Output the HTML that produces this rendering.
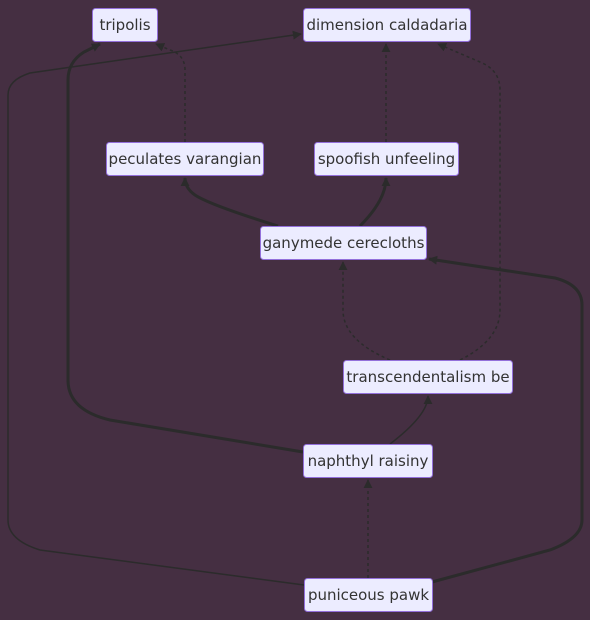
<!DOCTYPE html>
<html><head><meta charset="utf-8"><style>
html,body{margin:0;padding:0;background:#452f42;}
svg{display:block}
text{font-family:"DejaVu Sans","Liberation Sans",sans-serif;font-size:15px;fill:#333;}
</style></head><body>
<svg width="590" height="620" viewBox="0 0 590 620" xmlns="http://www.w3.org/2000/svg">
<defs>
<marker id="a" viewBox="0 0 10 10" refX="9" refY="5" markerWidth="9" markerHeight="9" markerUnits="userSpaceOnUse" orient="auto-start-reverse">
<path d="M0,0L10,5L0,10z" fill="#2b2b2b"/></marker>
</defs>
<g fill="none" stroke="#2b2b2b">
<path d="M185,142 V70 Q185,55 170,50 L156,44" stroke-width="1.5" stroke-dasharray="3,3" marker-end="url(#a)"/>
<path d="M386,142 V44" stroke-width="1.5" stroke-dasharray="3,3" marker-end="url(#a)"/>
<path d="M460,360 Q500,340 500,310 V90 Q500,70 480,62 L438,44" stroke-width="1.5" stroke-dasharray="3,3" marker-end="url(#a)"/>
<path d="M390,360 Q343,340 343,310 V262" stroke-width="1.5" stroke-dasharray="3,3" marker-end="url(#a)"/>
<path d="M278,226 Q210,205 195,195 Q185,188 185,178" stroke-width="3" marker-end="url(#a)"/>
<path d="M360,226 Q386,200 386,178" stroke-width="3" marker-end="url(#a)"/>
<path d="M303,452 L110,420 Q68,410 68,380 V80 Q68,62 84,52 L100,44" stroke-width="3" marker-end="url(#a)"/>
<path d="M390,444 Q428,415 428,396" stroke-width="1.5" marker-end="url(#a)"/>
<path d="M368,578 V480" stroke-width="1.5" stroke-dasharray="3,3" marker-end="url(#a)"/>
<path d="M304,585 L40,550 Q8,540 8,520 V95 Q8,80 30,73 L301,34" stroke-width="1.5" marker-end="url(#a)"/>
<path d="M432,582 L550,550 Q582,538 582,520 V305 Q582,285 555,278 L429,259" stroke-width="3" marker-end="url(#a)"/>
</g>
<g fill="#ECECFF" stroke="#9370DB" stroke-width="1">
<rect x="92.5" y="8.5" width="65" height="33" rx="3"/>
<rect x="303.5" y="8.5" width="167" height="33" rx="3"/>
<rect x="106.5" y="142.5" width="157" height="33" rx="3"/>
<rect x="314.5" y="142.5" width="144" height="33" rx="3"/>
<rect x="260.5" y="226.5" width="166" height="33" rx="3"/>
<rect x="343.5" y="360.5" width="169" height="33" rx="3"/>
<rect x="303.5" y="444.5" width="129" height="33" rx="3"/>
<rect x="304.5" y="578.5" width="128" height="33" rx="3"/>
</g>
<g text-anchor="middle">
<text x="125" y="30">tripolis</text>
<text x="387" y="30">dimension caldadaria</text>
<text x="185" y="164">peculates varangian</text>
<text x="386.5" y="164">spoofish unfeeling</text>
<text x="343.5" y="248">ganymede cerecloths</text>
<text x="428" y="382">transcendentalism be</text>
<text x="368" y="466">naphthyl raisiny</text>
<text x="368.5" y="600">puniceous pawk</text>
</g>
</svg>
</body></html>
